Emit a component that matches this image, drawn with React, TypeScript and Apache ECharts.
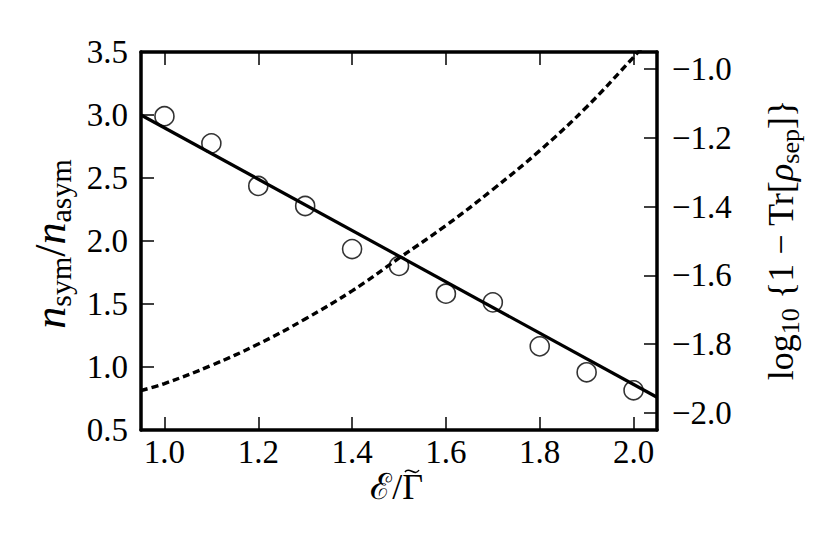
import React, { useEffect, useRef } from "react";
import * as echarts from "echarts";

// Circles: measured n_sym / n_asym
const pointX = [1.0, 1.1, 1.2, 1.3, 1.4, 1.5, 1.6, 1.7, 1.8, 1.9, 2.0];
const pointY = [2.99, 2.775, 2.437, 2.278, 1.936, 1.802, 1.582, 1.513, 1.164, 0.958, 0.815];

// Solid fitted line (left axis)
const fitX = [0.95, 2.05];
const fitY = [3.0, 0.76];

// Dashed curve: log10{1 - Tr[rho_sep]} (right axis)
const curveX = [0.95, 1.0, 1.1, 1.2, 1.3, 1.4, 1.5, 1.6, 1.7, 1.8, 1.9, 2.0, 2.05];
const curveY = [-1.935, -1.915, -1.862, -1.8, -1.727, -1.645, -1.55, -1.455, -1.35, -1.237, -1.11, -0.965, -0.89];

// Axis ranges
const xRange = [0.95, 2.05];
const leftRange = [0.5, 3.5];
const rightRange = [-2.05, -0.95];

const FONT = "Liberation Serif";
const TICK_FS = 33;

function isMultiple(v: number, step: number) {
  const r = v / step;
  return Math.abs(r - Math.round(r)) < 1e-6;
}

export default function App() {
  const ref = useRef<HTMLDivElement>(null);

  useEffect(() => {
    if (!ref.current) return;
    const chart = echarts.init(ref.current, undefined, { renderer: "svg" });

    const frameLine = { show: true, onZero: false, lineStyle: { color: "#000", width: 3.5 } };
    const tick = { show: true, inside: true, length: 13, lineStyle: { color: "#000", width: 1.5 } };
    const labelBase = { fontSize: TICK_FS, fontFamily: FONT, color: "#000" };

    const subL = { fontSize: 30, fontFamily: FONT, padding: [21, 0, 0, 0] };
    const subR = { fontSize: 26, fontFamily: FONT, padding: [19, 0, 0, 0] };

    chart.setOption({
      animation: false,
      backgroundColor: "#fff",
      grid: { left: 141, right: 174, top: 52, bottom: 108, containLabel: false },
      xAxis: [
        {
          type: "value",
          position: "bottom",
          min: xRange[0],
          max: xRange[1],
          minInterval: 0.2,
          maxInterval: 0.2,
          axisLine: frameLine,
          axisTick: tick,
          splitLine: { show: false },
          axisLabel: {
            ...labelBase,
            margin: 5,
            showMinLabel: false,
            showMaxLabel: false,
            formatter: (v: number) => (isMultiple(v, 0.2) ? v.toFixed(1) : ""),
          },
        },
        {
          type: "value",
          position: "top",
          min: xRange[0],
          max: xRange[1],
          minInterval: 0.2,
          maxInterval: 0.2,
          axisLine: frameLine,
          axisTick: tick,
          splitLine: { show: false },
          axisLabel: { show: false },
        },
      ],
      yAxis: [
        {
          type: "value",
          position: "left",
          min: leftRange[0],
          max: leftRange[1],
          interval: 0.5,
          axisLine: frameLine,
          axisTick: tick,
          splitLine: { show: false },
          axisLabel: {
            ...labelBase,
            margin: 13,
            formatter: (v: number) => v.toFixed(1),
          },
        },
        {
          type: "value",
          position: "right",
          min: rightRange[0],
          max: rightRange[1],
          minInterval: 0.2,
          maxInterval: 0.2,
          axisLine: frameLine,
          axisTick: tick,
          splitLine: { show: false },
          axisLabel: {
            ...labelBase,
            margin: 15,
            showMinLabel: false,
            showMaxLabel: false,
            formatter: (v: number) =>
              isMultiple(v, 0.2) ? (v < 0 ? "\u2212" : "") + Math.abs(v).toFixed(1) : "",
          },
        },
      ],
      series: [
        {
          type: "line",
          xAxisIndex: 0,
          yAxisIndex: 1,
          data: curveX.map((x, i) => [x, curveY[i]]),
          smooth: 0.4,
          symbol: "none",
          clip: true,
          lineStyle: { color: "#000", width: 3.4, type: [7, 4] },
          z: 2,
        },
        {
          type: "line",
          xAxisIndex: 0,
          yAxisIndex: 0,
          data: fitX.map((x, i) => [x, fitY[i]]),
          symbol: "none",
          clip: true,
          lineStyle: { color: "#000", width: 3.2 },
          z: 3,
        },
        {
          type: "scatter",
          xAxisIndex: 0,
          yAxisIndex: 0,
          data: pointX.map((x, i) => [x, pointY[i]]),
          symbol: "circle",
          symbolSize: 19,
          itemStyle: { color: "rgba(0,0,0,0)", borderColor: "#000", borderWidth: 1.6 },
          z: 4,
        },
      ],
      graphic: [
        {
          type: "text",
          x: 50,
          y: 244,
          rotation: Math.PI / 2,
          style: {
            text: "{n|n}{s|sym}{m|/}{n|n}{s|asym}",
            fontSize: 44,
            fontFamily: FONT,
            fill: "#000",
            align: "center",
            verticalAlign: "middle",
            rich: {
              n: { fontSize: 44, fontFamily: FONT, fontStyle: "italic" },
              m: { fontSize: 44, fontFamily: FONT },
              s: subL,
            },
          },
        },
        {
          type: "text",
          x: 781,
          y: 240,
          rotation: Math.PI / 2,
          style: {
            text: "{m|log}{s|10}{m| {1 \u2212 Tr[}{r|\u03c1}{s|sep}{m|]}}",
            fontSize: 36,
            fontFamily: FONT,
            fill: "#000",
            align: "center",
            verticalAlign: "middle",
            rich: {
              m: { fontSize: 36, fontFamily: FONT },
              r: { fontSize: 36, fontFamily: FONT, fontStyle: "italic" },
              s: subR,
            },
          },
        },
        {
          type: "text",
          x: 423,
          y: 487,
          style: {
            text: "\u2130/\u0393",
            fontSize: 36,
            fontFamily: FONT,
            fill: "#000",
            align: "right",
            verticalAlign: "middle",
          },
        },
        {
          type: "bezierCurve",
          shape: { x1: 405, y1: 472, cpx1: 409, cpy1: 466, cpx2: 415, cpy2: 477, x2: 419, y2: 470 },
          style: { stroke: "#000", lineWidth: 1.5, fill: null },
        },
      ],
    });

    return () => chart.dispose();
  }, []);

  return (
    <div
      ref={ref}
      style={{ position: "absolute", left: 0, top: 0, width: 831, height: 538, background: "#fff" }}
    />
  );
}
